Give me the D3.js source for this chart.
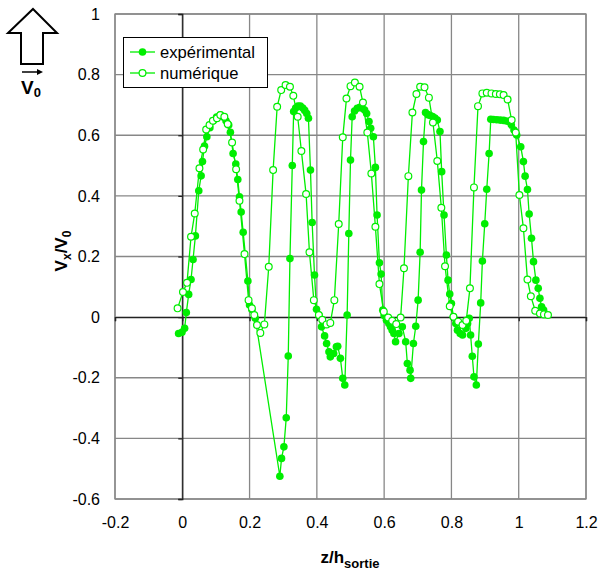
<!DOCTYPE html>
<html><head><meta charset="utf-8">
<script src="https://cdn.jsdelivr.net/npm/d3@7"></script>
<style>body{margin:0;background:#fff}svg{display:block;font-family:"Liberation Sans",Arial,sans-serif}</style>
</head><body>
<svg id="c" width="599" height="570"></svg>
<script>
// Experimental (filled markers): z/h_sortie
const expZ = [-0.011,-0.001,0.007,0.012,0.019,0.026,0.032,0.039,0.049,0.056,0.060,0.066,0.073,0.082,0.092,0.102,0.113,0.122,0.130,0.138,0.143,0.151,0.159,0.165,0.170,0.175,0.181,0.195,0.200,0.207,0.217,
  0.290,0.295,0.302,0.309,0.315,0.320,0.327,0.331,0.337,0.344,0.351,0.358,0.364,0.370,0.375,0.381,0.386,0.393,0.399,0.406,0.414,0.423,0.429,0.436,0.440,0.450,0.458,0.462,0.470,0.477,0.483,
  0.490,0.495,0.500,0.505,0.512,0.520,0.528,0.535,0.542,0.548,0.555,0.560,0.568,0.574,0.579,0.586,0.591,0.596,0.600,0.607,0.614,0.619,0.624,0.629,0.634,0.644,0.654,0.664,0.669,0.677,0.679,
  0.687,0.694,0.701,0.707,0.711,0.717,0.723,0.730,0.737,0.744,0.751,0.758,0.766,0.771,0.778,0.785,0.790,0.795,0.800,0.806,0.813,0.818,0.826,0.833,0.843,0.848,0.853,0.857,0.862,0.867,0.874,
  0.880,0.887,0.892,0.899,0.905,0.912,0.917,0.925,0.935,0.945,0.955,0.964,0.971,0.978,0.986,0.994,1.006,1.014,1.019,1.026,1.031,1.038,1.044,1.051,1.058,1.063,1.068,1.074];
const expV = [-0.054,-0.050,-0.037,0.015,0.075,0.124,0.190,0.268,0.417,0.466,0.513,0.564,0.595,0.625,0.648,0.660,0.667,0.660,0.648,0.634,0.610,0.540,0.505,0.454,0.397,0.347,0.280,0.119,0.040,0.025,-0.004,
  -0.525,-0.466,-0.428,-0.332,-0.128,0.193,0.500,0.678,0.690,0.696,0.696,0.690,0.682,0.672,0.656,0.485,0.312,0.139,0.026,0.007,-0.032,-0.062,-0.087,-0.114,-0.131,-0.120,-0.098,-0.096,-0.136,-0.202,-0.224,
  0.007,0.276,0.518,0.661,0.680,0.689,0.692,0.689,0.683,0.672,0.645,0.623,0.595,0.494,0.337,0.179,0.142,0.023,0.005,-0.010,-0.021,-0.032,-0.043,-0.054,-0.081,-0.054,-0.032,-0.081,-0.153,-0.175,-0.202,
  -0.087,-0.030,0.056,0.214,0.419,0.579,0.675,0.668,0.665,0.662,0.657,0.650,0.612,0.480,0.337,0.205,0.122,0.076,0.045,0.001,-0.021,-0.043,-0.054,-0.059,-0.037,-0.021,-0.004,-0.059,-0.129,-0.197,-0.224,
  -0.089,0.047,0.185,0.308,0.422,0.540,0.653,0.652,0.651,0.650,0.649,0.647,0.645,0.634,0.617,0.601,0.562,0.513,0.465,0.421,0.340,0.260,0.183,0.122,0.095,0.062,0.034,0.023];
// Numerical (open markers)
const numZ = [-0.014,0.002,0.014,0.026,0.037,0.051,0.062,0.071,0.081,0.091,0.103,0.113,0.125,0.135,0.148,0.160,0.170,0.185,0.197,0.207,0.214,0.222,0.232,0.244,0.257,0.270,0.282,0.294,0.307,0.320,0.330,
  0.343,0.354,0.368,0.378,0.391,0.406,0.416,0.429,0.440,0.452,0.465,0.477,0.488,0.500,0.513,0.527,0.537,0.550,0.562,0.574,0.586,0.599,0.612,0.624,0.636,0.649,0.659,0.672,0.684,0.696,0.707,
  0.720,0.733,0.745,0.758,0.770,0.781,0.795,0.806,0.820,0.833,0.844,0.855,0.867,0.879,0.892,0.905,0.919,0.932,0.944,0.955,0.967,0.979,0.991,1.002,1.014,1.026,1.036,1.049,1.063,1.075,1.087];
const numV = [0.029,0.083,0.113,0.265,0.342,0.491,0.553,0.619,0.634,0.648,0.656,0.667,0.661,0.637,0.576,0.488,0.384,0.208,0.056,0.029,0.007,-0.026,-0.052,-0.024,0.166,0.485,0.694,0.749,0.766,0.760,0.730,
  0.661,0.548,0.406,0.214,0.056,0.007,-0.009,-0.024,-0.019,0.056,0.307,0.593,0.721,0.762,0.774,0.760,0.708,0.609,0.474,0.298,0.109,0.018,-0.001,-0.012,-0.023,-0.001,0.161,0.465,0.675,0.736,0.760,
  0.758,0.724,0.642,0.515,0.361,0.168,0.036,0.001,-0.015,-0.026,-0.012,0.095,0.428,0.696,0.738,0.740,0.738,0.736,0.735,0.733,0.718,0.650,0.609,0.403,0.293,0.124,0.069,0.021,0.012,0.009,0.007];
const xTicks = [-0.2,0,0.2,0.4,0.6,0.8,1,1.2];
const yTicks = [-0.6,-0.4,-0.2,0,0.2,0.4,0.6,0.8,1];
const seriesNames = ["expérimental","numérique"];

const green = "#00ee00";
const svg = d3.select("#c");
const L=115, R=586, T=14, B=499;
const x = d3.scaleLinear().domain([-0.2,1.2]).range([L,R]);
const y = d3.scaleLinear().domain([-0.6,1]).range([B,T]);
const fmt = d => String(+d.toFixed(1));

// grid
svg.append("g").selectAll("line").data(xTicks).join("line")
  .attr("x1",d=>x(d)).attr("x2",d=>x(d)).attr("y1",T).attr("y2",B)
  .attr("stroke","#878787").attr("stroke-width",1.3);
svg.append("g").selectAll("line").data(yTicks).join("line")
  .attr("x1",L).attr("x2",R).attr("y1",d=>y(d)).attr("y2",d=>y(d))
  .attr("stroke","#878787").attr("stroke-width",1.3);
svg.append("rect").attr("x",L).attr("y",T).attr("width",R-L).attr("height",B-T)
  .attr("fill","none").attr("stroke","#878787").attr("stroke-width",1.3);

// zero axes with ticks
const ax = svg.append("g").attr("transform",`translate(0,${y(0)})`)
  .call(d3.axisBottom(x).tickValues(xTicks).tickSize(4).tickFormat(""));
const ay = svg.append("g").attr("transform",`translate(${x(0)},0)`)
  .call(d3.axisLeft(y).tickValues(yTicks).tickSize(4).tickFormat(""));
[ax,ay].forEach(g=>{g.select(".domain").attr("stroke","#222").attr("stroke-width",1.3);
  g.selectAll(".tick line").attr("stroke","#222").attr("stroke-width",1.3);});

// tick labels
const lx = svg.append("g").attr("transform",`translate(0,${B})`)
  .call(d3.axisBottom(x).tickValues(xTicks).tickSize(0).tickPadding(18).tickFormat(fmt));
const ly = svg.append("g").attr("transform",`translate(${L},0)`)
  .call(d3.axisLeft(y).tickValues(yTicks).tickSize(0).tickPadding(15).tickFormat(fmt));
[lx,ly].forEach(g=>{g.select(".domain").remove();
  g.selectAll("text").attr("font-size",16).attr("fill","#000").attr("font-family","Liberation Sans, Arial, sans-serif");});

// series
const expData = expZ.map((z,i)=>[z,expV[i]]);
const numData = numZ.map((z,i)=>[z,numV[i]]);
const line = d3.line().x(d=>x(d[0])).y(d=>y(d[1]));
svg.append("path").datum(numData).attr("d",line).attr("fill","none").attr("stroke",green).attr("stroke-width",1.3);
svg.append("path").datum(expData).attr("d",line).attr("fill","none").attr("stroke",green).attr("stroke-width",1.3);
svg.append("g").selectAll("circle").data(expData).join("circle")
  .attr("cx",d=>x(d[0])).attr("cy",d=>y(d[1])).attr("r",3.8).attr("fill",green);
svg.append("g").selectAll("circle").data(numData).join("circle")
  .attr("cx",d=>x(d[0])).attr("cy",d=>y(d[1])).attr("r",3.4).attr("fill","#fff").attr("stroke",green).attr("stroke-width",1.2);

// legend
const lg = svg.append("g");
lg.append("rect").attr("x",123.5).attr("y",37.5).attr("width",144).attr("height",50)
  .attr("fill","#fff").attr("stroke","#000").attr("stroke-width",1);
seriesNames.forEach((n,i)=>{
  const yy = 52 + i*21;
  lg.append("line").attr("x1",130).attr("x2",155).attr("y1",yy).attr("y2",yy).attr("stroke",green).attr("stroke-width",1.3);
  const c = lg.append("circle").attr("cx",142.5).attr("cy",yy).attr("r",i?3.4:3.8);
  if(i) c.attr("fill","#fff").attr("stroke",green).attr("stroke-width",1.2); else c.attr("fill",green);
  lg.append("text").attr("x",160).attr("y",yy+5.5).attr("font-size",16.6).text(n);
});

// axis titles
const yt = svg.append("text").attr("transform","translate(67,251) rotate(-90)")
  .attr("text-anchor","middle").attr("font-weight","bold").attr("font-size",17);
yt.append("tspan").text("V");
yt.append("tspan").attr("font-size",12).attr("dy",4).text("x");
yt.append("tspan").attr("dy",-4).text("/V");
yt.append("tspan").attr("font-size",12).attr("dy",4).text("0");
const xt = svg.append("text").attr("x",350).attr("y",563)
  .attr("text-anchor","middle").attr("font-weight","bold").attr("font-size",17);
xt.append("tspan").text("z/h");
xt.append("tspan").attr("font-size",13).attr("dy",5).text("sortie");

// V0 arrow symbol
svg.append("path").attr("d","M33,9 L57,33 L43,33 L43,64 L21,64 L21,33 L8,33 Z")
  .attr("fill","#fff").attr("stroke","#000").attr("stroke-width",2);
svg.append("line").attr("x1",22).attr("x2",38).attr("y1",72).attr("y2",72).attr("stroke","#000").attr("stroke-width",1.5);
svg.append("path").attr("d","M37,69 L43,72 L37,75 Z").attr("fill","#000");
const vt = svg.append("text").attr("x",21).attr("y",94).attr("font-weight","bold").attr("font-size",19);
vt.append("tspan").text("V");
vt.append("tspan").attr("font-size",13).attr("dy",3).text("0");
</script>
</body></html>
